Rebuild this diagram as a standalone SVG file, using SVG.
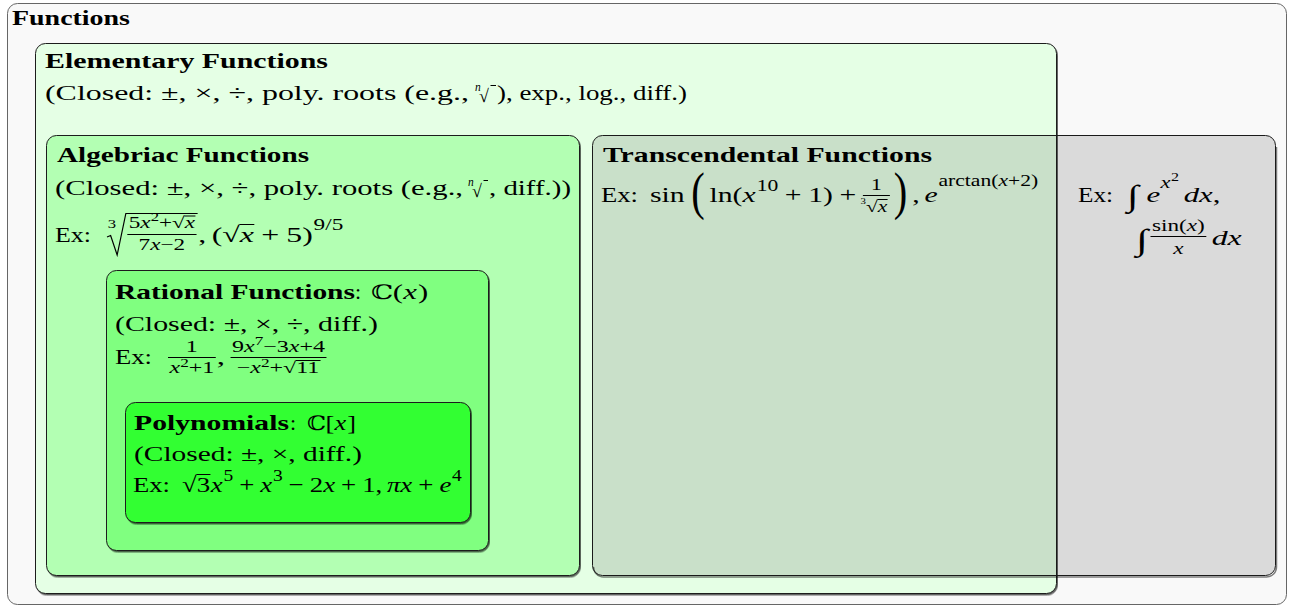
<svg xmlns="http://www.w3.org/2000/svg" width="1289" height="608" viewBox="0 0 1289 608">
<defs>
<filter id="sh" x="-5%" y="-5%" width="110%" height="110%">
<feDropShadow dx="1" dy="1.5" stdDeviation="0.6" flood-color="#000" flood-opacity="0.6"/>
</filter>
<style>
text{font-family:"Liberation Serif","DejaVu Serif",serif;font-size:22px;fill:#000}
.b{font-weight:bold}
.i{font-style:italic}
.s{font-size:16px}
.t{font-size:11.5px}
.box{stroke:#1a1a1a;stroke-width:1;filter:url(#sh)}
.ln{stroke:#000;stroke-width:1;fill:none;vector-effect:non-scaling-stroke}
.bb{font-family:"DejaVu Serif",serif;font-size:20px}
.big{font-size:30px}
.int{font-size:30px}
</style>
</defs>
<g id="node-functions">
<rect x="7.5" y="3.5" width="1279" height="601" rx="10" fill="#f9f9f9" stroke="#666"/>
<text x="12" y="25" class="b" textLength="118" lengthAdjust="spacingAndGlyphs">Functions</text>
</g>
<g id="node-elementary">
<rect class="box" x="35.5" y="43.5" width="1021" height="550" rx="10" fill="#e5ffe5"/>
<text x="45" y="68" class="b" textLength="283" lengthAdjust="spacingAndGlyphs">Elementary Functions</text>
<text x="45" y="100" textLength="424" lengthAdjust="spacingAndGlyphs">(Closed: ±, ×, ÷, poly. roots (e.g.,</text>
<text x="475" y="91" class="i t">n</text>
<text x="479" y="102" style="font-size:18px">√</text>
<path class="ln" d="M490.5 85.5H496"/>
<text x="497" y="100" textLength="190" lengthAdjust="spacingAndGlyphs">), exp., log., diff.)</text>
</g>
<g id="node-algebraic">
<rect class="box" x="46.5" y="135.5" width="533" height="440" rx="10" fill="#b3ffb3"/>
<text x="57" y="162" class="b" textLength="252" lengthAdjust="spacingAndGlyphs">Algebriac Functions</text>
<text x="55" y="195" textLength="408" lengthAdjust="spacingAndGlyphs">(Closed: ±, ×, ÷, poly. roots (e.g.,</text>
<text x="468" y="186" class="i t">n</text>
<text x="472" y="197" style="font-size:18px">√</text>
<path class="ln" d="M483.5 180.5H488"/>
<text x="489" y="195" textLength="82" lengthAdjust="spacingAndGlyphs">, diff.))</text>
<text x="55" y="242" textLength="36" lengthAdjust="spacingAndGlyphs">Ex:</text>
<g transform="matrix(1.45 0 0 1 107 0)">
<text x="0.5" y="228" class="t">3</text>
<path class="ln" d="M0 237L2.5 235.5L7 255L13 213.5H62.5" style="stroke-width:1.2"/>
<text y="228" class="s"><tspan x="15">5</tspan><tspan x="23" class="i">x</tspan><tspan x="30.1" y="221" class="t">2</tspan><tspan x="35.85" y="228">+</tspan><tspan x="44.85">√</tspan><tspan x="53.65" class="i">x</tspan></text>
<path class="ln" d="M53.4 216H61M14 234.5H61.75M91.3 224.5H101.6"/>
<text y="250" class="s"><tspan x="21.8">7</tspan><tspan x="29.8" class="i">x</tspan><tspan x="36.9">−</tspan><tspan x="45.9">2</tspan></text>
<text y="242"><tspan x="63">,</tspan><tspan x="72.2">(</tspan><tspan x="79.5">√</tspan><tspan x="91.6" class="i">x</tspan><tspan x="106.3">+</tspan><tspan x="123.6">5</tspan><tspan x="134.6">)</tspan></text>
<text x="142.5" y="230" class="s">9/5</text>
</g>
</g>
<g id="node-rational">
<rect class="box" x="106.5" y="270.5" width="382" height="280" rx="10" fill="#80ff80"/>
<text x="115" y="299" class="b" textLength="240" lengthAdjust="spacingAndGlyphs">Rational Functions</text>
<text x="355" y="299">:</text>
<g transform="matrix(1.4 0 0 1 371 0)">
<text y="299"><tspan x="0" class="bb">ℂ</tspan><tspan x="15.5">(</tspan><tspan x="23" class="i">x</tspan><tspan x="33.5">)</tspan></text>
</g>
<text x="115" y="331" textLength="263" lengthAdjust="spacingAndGlyphs">(Closed: ±, ×, ÷, diff.)</text>
<text x="115" y="364" textLength="37" lengthAdjust="spacingAndGlyphs">Ex:</text>
<g transform="matrix(1.5 0 0 1 168 0)">
<text x="11.9" y="352" class="s">1</text>
<text y="373" class="s"><tspan x="1" class="i">x</tspan><tspan x="8.1" y="367" class="t">2</tspan><tspan x="13.85" y="373">+</tspan><tspan x="22.85">1</tspan></text>
<text x="32.5" y="364">,</text>
<text y="352" class="s"><tspan x="42.7">9</tspan><tspan x="50.7" class="i">x</tspan><tspan x="57.8" y="345" class="t">7</tspan><tspan x="63.55" y="352">−</tspan><tspan x="72.55">3</tspan><tspan x="80.55" class="i">x</tspan><tspan x="87.65">+</tspan><tspan x="96.65">4</tspan></text>
<text y="373" class="s"><tspan x="45.85">−</tspan><tspan x="54.85" class="i">x</tspan><tspan x="61.95" y="367" class="t">2</tspan><tspan x="67.7" y="373">+</tspan><tspan x="76.7">√</tspan><tspan x="85.5">11</tspan></text>
<path class="ln" d="M0 357.5H31.85M41.7 357.5H105.65M85.3 360.5H101.7"/>
</g>
</g>
<g id="node-polynomials">
<rect class="box" x="125.5" y="402.5" width="345" height="120" rx="10" fill="#33ff33"/>
<text x="134" y="430" class="b" textLength="155" lengthAdjust="spacingAndGlyphs">Polynomials</text>
<text x="290" y="430">:</text>
<g transform="matrix(1.2 0 0 1 307 0)">
<text y="430"><tspan x="0" class="bb">ℂ</tspan><tspan x="15.5">[</tspan><tspan x="23" class="i">x</tspan><tspan x="33.5">]</tspan></text>
</g>
<text x="134" y="461" textLength="228" lengthAdjust="spacingAndGlyphs">(Closed: ±, ×, diff.)</text>
<text x="133" y="492" textLength="37" lengthAdjust="spacingAndGlyphs">Ex:</text>
<g transform="matrix(1.22 0 0 1 182 0)">
<text y="492"><tspan x="0">√</tspan><tspan x="12.1">3</tspan><tspan x="23.5" class="i">x</tspan><tspan x="34" y="481" class="s">5</tspan><tspan x="46.9" y="492">+</tspan><tspan x="64.2" class="i">x</tspan><tspan x="74.5" y="481" class="s">3</tspan><tspan x="87.4" y="492">−</tspan><tspan x="104.7">2</tspan><tspan x="115.7" class="i">x</tspan><tspan x="130.4">+</tspan><tspan x="147.7">1</tspan><tspan x="158.7">,</tspan><tspan x="168" class="i">π</tspan><tspan x="179" class="i">x</tspan><tspan x="193.7">+</tspan><tspan x="211" class="i">e</tspan><tspan x="221.3" y="481" class="s">4</tspan></text>
<path class="ln" d="M11.8 474.5H23.3"/>
</g>
</g>
<g id="node-transcendental">
<path d="M592.5 565.5A10 10 0 0 0 602.5 575.5H1265.5A10 10 0 0 0 1275.5 565.5V145.5" transform="translate(1 1.5)" fill="none" stroke="#000" stroke-opacity="0.5" stroke-width="1.5"/>
<rect x="592.5" y="135.5" width="683" height="440" rx="10" fill="#000" fill-opacity="0.12" stroke="#1a1a1a"/>
<text x="603" y="162" class="b" textLength="329" lengthAdjust="spacingAndGlyphs">Transcendental Functions</text>
<text x="601" y="202" textLength="37" lengthAdjust="spacingAndGlyphs">Ex:</text>
<g transform="matrix(1.35 0 0 1 650 0)">
<text x="0" y="202">sin</text>
<g transform="translate(0 208.8) scale(1 1.78)"><text x="30.5" y="0" class="big">(</text></g>
<text y="202"><tspan x="44.1">ln</tspan><tspan x="61.2">(</tspan><tspan x="68.5" class="i">x</tspan><tspan x="79" y="191" class="s">10</tspan><tspan x="99.9" y="202">+</tspan><tspan x="117.2">1</tspan><tspan x="128.2">)</tspan><tspan x="140.4">+</tspan></text>
<text x="163.7" y="190" class="s">1</text>
<path class="ln" d="M157.7 195.5H177.7M168.5 199.5H176"/>
<text x="156" y="204" style="font-size:8px">3</text>
<text x="160" y="212" class="s">√</text>
<text x="168.8" y="212" class="s i">x</text>
<g transform="translate(0 208.8) scale(1 1.78)"><text x="180.5" y="0" class="big">)</text></g>
<text x="194.2" y="202">,</text>
<text x="203.4" y="202" class="i">e</text>
<text x="213.7" y="186" class="s">arctan(<tspan class="i">x</tspan>+2)</text>
</g>
<text x="1078" y="202" textLength="35" lengthAdjust="spacingAndGlyphs">Ex:</text>
<g transform="matrix(1.4 0 0 1 1127 0)">
<text x="0" y="206" class="int">∫</text>
<text x="14" y="202" class="i">e</text>
<text x="24" y="188" class="s i">x</text>
<text x="31.5" y="181" class="t">2</text>
<text x="40.5" y="202"><tspan class="i">dx</tspan>,</text>
</g>
<g transform="matrix(1.45 0 0 1 1136 0)">
<text x="0" y="250" class="int">∫</text>
<text x="11" y="231" class="s">sin(<tspan class="i">x</tspan>)</text>
<path class="ln" d="M10 236.5H48.5"/>
<text x="25.7" y="254" class="s i">x</text>
<text x="52.2" y="245" class="i">dx</text>
</g>
</g>
<g id="connectors"></g>
</svg>
